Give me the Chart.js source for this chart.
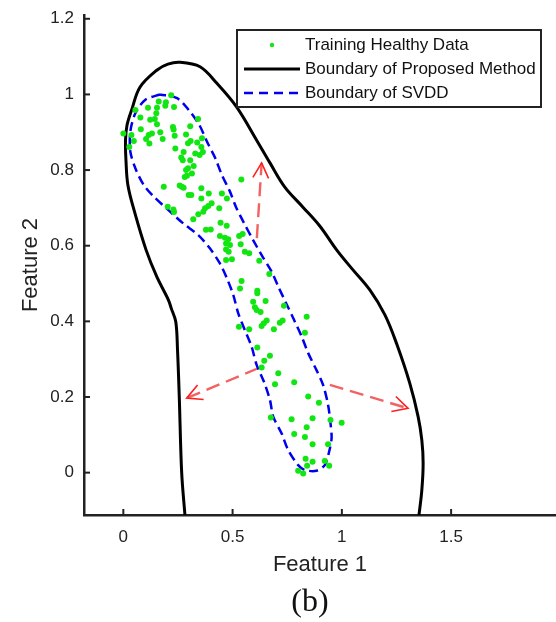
<!DOCTYPE html>
<html>
<head>
<meta charset="utf-8">
<script src="https://cdn.jsdelivr.net/npm/chart.js@4.4.1/dist/chart.umd.min.js"></script>
<style>
  html, body { margin: 0; padding: 0; background: #fff; }
  #wrap { position: relative; width: 556px; height: 622px; overflow: hidden; }
  #caption {
    position: absolute; left: 260px; top: 582px; width: 100px;
    text-align: center; font: 32px "Liberation Serif", "Times New Roman", serif;
    line-height: 36px; color: #111;
  }
</style>
</head>
<body>
<div id="wrap">
  <canvas id="chart" width="556" height="622"></canvas>
  <div id="caption">(b)</div>
</div>
<script>
// tick values and labels
const xTickValues = [0, 0.5, 1, 1.5];
const xTickLabels = ["0", "0.5", "1", "1.5"];
const yTickValues = [0, 0.2, 0.4, 0.6, 0.8, 1, 1.2];
const yTickLabels = ["0", "0.2", "0.4", "0.6", "0.8", "1", "1.2"];

const seriesLabels = ["Training Healthy Data", "Boundary of Proposed Method", "Boundary of SVDD"];

// green training points [feature1, feature2]
const trainingHealthy = [
  [0.219,0.998],[0.162,0.981],[0.195,0.979],[0.192,0.970],[0.113,0.965],[0.154,0.965],[0.232,0.967],
  [0.055,0.959],[0.151,0.950],[0.078,0.939],[0.123,0.933],[0.144,0.935],[0.154,0.921],[0.342,0.935],
  [0.306,0.916],[0.227,0.914],[0.230,0.907],[0.080,0.908],[0.000,0.897],[0.037,0.893],[0.131,0.897],
  [0.169,0.900],[0.116,0.893],[0.235,0.891],[0.287,0.894],[0.104,0.882],[0.180,0.882],[0.048,0.877],
  [0.308,0.877],[0.360,0.884],[0.296,0.871],[0.338,0.873],[0.119,0.870],[0.027,0.861],[0.238,0.857],
  [0.357,0.861],[0.276,0.848],[0.329,0.844],[0.364,0.848],[0.349,0.840],[0.265,0.833],[0.272,0.826],
  [0.306,0.826],[0.322,0.811],[0.296,0.805],[0.287,0.800],[0.314,0.791],[0.291,0.785],[0.281,0.782],
  [0.540,0.775],[0.185,0.756],[0.258,0.759],[0.276,0.753],[0.268,0.756],[0.357,0.752],[0.311,0.734],
  [0.299,0.734],[0.391,0.738],[0.451,0.738],[0.474,0.725],[0.357,0.725],
  [0.404,0.712],[0.389,0.705],[0.374,0.699],[0.439,0.699],[0.203,0.703],[0.229,0.696],[0.232,0.689],
  [0.366,0.690],[0.343,0.683],[0.320,0.670],[0.445,0.661],[0.473,0.653],[0.378,0.642],[0.400,0.643],
  [0.442,0.626],[0.465,0.621],[0.480,0.617],[0.546,0.631],[0.530,0.626],[0.470,0.606],[0.488,0.602],
  [0.537,0.604],[0.470,0.590],[0.482,0.584],[0.556,0.584],[0.576,0.580],[0.470,0.562],[0.497,0.564],
  [0.622,0.560],[0.668,0.525],[0.541,0.507],[0.534,0.487],[0.613,0.481],[0.613,0.474],
  [0.594,0.452],[0.651,0.454],[0.602,0.437],[0.610,0.430],[0.628,0.425],[0.735,0.441],[0.839,0.412],
  [0.656,0.402],[0.643,0.395],[0.633,0.388],[0.729,0.402],[0.716,0.396],[0.529,0.386],[0.576,0.379],
  [0.689,0.379],[0.831,0.370],[0.613,0.331],[0.671,0.309],[0.645,0.296],[0.633,0.278],[0.709,0.263],
  [0.694,0.234],[0.782,0.239],
  [0.846,0.201],[0.895,0.185],[0.675,0.146],[0.770,0.141],[0.866,0.144],[0.948,0.139],[0.999,0.132],
  [0.839,0.120],[0.782,0.102],[0.831,0.094],[0.866,0.075],[0.937,0.075],[0.834,0.037],[0.866,0.029],
  [0.922,0.031],[0.841,0.018],[0.942,0.018],[0.800,0.005],[0.823,-0.002]
];

// black boundary, from bottom-left, over the top, down the right side
const proposedBoundary = [
  [0.285,-0.13],[0.282,-0.112],[0.267,0.000],[0.256,0.200],[0.248,0.324],[0.240,0.399],[0.219,0.435],
  [0.206,0.457],[0.153,0.518],[0.104,0.589],[0.053,0.686],[0.021,0.760],[0.012,0.826],[0.010,0.879],
  [0.017,0.919],[0.038,0.959],[0.076,1.019],[0.153,1.064],[0.204,1.080],[0.259,1.085],[0.351,1.073],
  [0.427,1.030],[0.518,0.967],[0.610,0.879],[0.671,0.819],[0.739,0.755],[0.822,0.702],[0.899,0.652],
  [0.976,0.589],[1.045,0.540],[1.128,0.483],[1.197,0.417],[1.250,0.342],[1.311,0.236],[1.349,0.148],
  [1.366,0.086],[1.372,0.025],[1.366,-0.046],[1.353,-0.112],[1.349,-0.13]
];

// blue dashed SVDD boundary (closed)
const svddBoundary = [
  [0.168,1.000],[0.101,0.986],[0.055,0.950],[0.032,0.902],[0.032,0.849],[0.055,0.805],[0.093,0.761],
  [0.139,0.730],[0.214,0.690],[0.274,0.659],[0.343,0.628],[0.396,0.593],[0.442,0.553],[0.476,0.511],
  [0.503,0.470],[0.526,0.421],[0.556,0.377],[0.587,0.333],[0.610,0.285],[0.643,0.241],[0.671,0.192],
  [0.686,0.148],[0.724,0.104],[0.754,0.060],[0.800,0.020],[0.831,0.007],[0.884,0.005],[0.922,0.020],
  [0.942,0.056],[0.953,0.091],[0.948,0.131],[0.937,0.179],[0.914,0.232],[0.884,0.271],[0.846,0.316],
  [0.816,0.360],[0.781,0.404],[0.745,0.448],[0.709,0.492],[0.679,0.531],[0.633,0.575],[0.594,0.615],
  [0.553,0.659],[0.515,0.703],[0.488,0.743],[0.451,0.787],[0.421,0.831],[0.383,0.875],[0.348,0.919],
  [0.299,0.959],[0.246,0.990],[0.168,1.000]
];

// red arrows: tail -> tip
const arrowTails = [[0.611,0.620],[0.617,0.276],[0.945,0.232]];
const arrowTips = [[0.633,0.819],[0.290,0.197],[1.303,0.170]];

const FONT = "'Liberation Sans', Arial, Helvetica, sans-serif";
const AXIS = "#222";
const toXY = arr => arr.map(p => ({ x: p[0], y: p[1] }));

// tick marks pointing into the plot
const innerTicks = {
  id: "innerTicks",
  afterDraw(chart) {
    const { ctx, chartArea, scales } = chart;
    ctx.save();
    ctx.strokeStyle = AXIS;
    ctx.lineWidth = 2;
    xTickValues.forEach(v => {
      const px = scales.x.getPixelForValue(v);
      ctx.beginPath();
      ctx.moveTo(px, chartArea.bottom);
      ctx.lineTo(px, chartArea.bottom - 6);
      ctx.stroke();
    });
    yTickValues.forEach(v => {
      const py = scales.y.getPixelForValue(v);
      ctx.beginPath();
      ctx.moveTo(chartArea.left, py);
      ctx.lineTo(chartArea.left + 6, py);
      ctx.stroke();
    });
    ctx.restore();
  }
};

const arrowHeads = {
  id: "arrowHeads",
  afterDatasetsDraw(chart) {
    const { ctx, scales: { x, y } } = chart;
    ctx.save();
    ctx.strokeStyle = "#ff2020";
    ctx.lineWidth = 1.6;
    arrowTips.forEach((tip, i) => {
      const x0 = x.getPixelForValue(arrowTails[i][0]);
      const y0 = y.getPixelForValue(arrowTails[i][1]);
      const x1 = x.getPixelForValue(tip[0]);
      const y1 = y.getPixelForValue(tip[1]);
      const ang = Math.atan2(y1 - y0, x1 - x0);
      const len = 17, half = 0.48;
      ctx.beginPath();
      ctx.moveTo(x1 - len * Math.cos(ang - half), y1 - len * Math.sin(ang - half));
      ctx.lineTo(x1, y1);
      ctx.lineTo(x1 - len * Math.cos(ang + half), y1 - len * Math.sin(ang + half));
      ctx.stroke();
    });
    ctx.restore();
  }
};

// boxed legend in the upper right of the plot
const boxLegend = {
  id: "boxLegend",
  afterDraw(chart) {
    const ctx = chart.ctx;
    const left = 237, top = 30, right = 541, bottom = 107;
    const rows = [45, 69, 93];
    ctx.save();
    ctx.fillStyle = "#fff";
    ctx.fillRect(left, top, right - left, bottom - top);
    ctx.strokeStyle = "#222";
    ctx.lineWidth = 2;
    ctx.strokeRect(left, top, right - left, bottom - top);

    ctx.fillStyle = "#12e612";
    ctx.beginPath();
    ctx.arc(272, rows[0], 2.2, 0, Math.PI * 2);
    ctx.fill();

    ctx.strokeStyle = "#000";
    ctx.lineWidth = 3;
    ctx.beginPath();
    ctx.moveTo(244, rows[1]);
    ctx.lineTo(300, rows[1]);
    ctx.stroke();

    ctx.strokeStyle = "#0000ee";
    ctx.lineWidth = 2.5;
    ctx.setLineDash([9, 6]);
    ctx.beginPath();
    ctx.moveTo(244, rows[2]);
    ctx.lineTo(300, rows[2]);
    ctx.stroke();
    ctx.setLineDash([]);

    ctx.fillStyle = "#111";
    ctx.font = "17px " + FONT;
    ctx.textBaseline = "middle";
    ctx.textAlign = "left";
    seriesLabels.forEach((t, i) => ctx.fillText(t, 305, rows[i]));
    ctx.restore();
  }
};

const arrowSets = arrowTails.map((t, i) => ({
  label: "arrow" + i,
  data: toXY([t, arrowTips[i]]),
  showLine: true,
  borderColor: "rgba(240,70,70,0.85)",
  borderWidth: 2.4,
  borderDash: [14, 7],
  pointRadius: 0,
  clip: 0
}));

new Chart(document.getElementById("chart"), {
  type: "scatter",
  data: {
    datasets: [
      {
        label: seriesLabels[0],
        data: toXY(trainingHealthy),
        backgroundColor: "#12e612",
        borderWidth: 0,
        pointRadius: 3
      },
      {
        label: seriesLabels[1],
        data: toXY(proposedBoundary),
        showLine: true,
        borderColor: "#000",
        borderWidth: 3,
        tension: 0.35,
        pointRadius: 0,
        clip: 0
      },
      {
        label: seriesLabels[2],
        data: toXY(svddBoundary),
        showLine: true,
        borderColor: "#0000ee",
        borderWidth: 2.5,
        borderDash: [9, 5],
        tension: 0.3,
        pointRadius: 0,
        clip: 0
      },
      ...arrowSets
    ]
  },
  options: {
    responsive: false,
    animation: false,
    layout: { autoPadding: false, padding: { left: 14, right: 0, top: 15, bottom: 40 } },
    plugins: { legend: { display: false }, tooltip: { enabled: false } },
    scales: {
      x: {
        type: "linear",
        position: "bottom",
        min: -0.18,
        max: 1.98,
        grid: { display: false, drawTicks: false },
        border: { display: true, color: AXIS, width: 2.5 },
        afterBuildTicks: s => { s.ticks = xTickValues.map(v => ({ value: v })); },
        afterFit: s => { s.height = 67; s.paddingLeft = 0; s.paddingRight = 0; s.paddingTop = 0; s.paddingBottom = 0; },
        ticks: {
          padding: 12,
          color: AXIS,
          font: { family: FONT, size: 17 },
          callback: (v, i) => xTickLabels[i]
        },
        title: {
          display: true,
          text: "Feature 1",
          color: AXIS,
          font: { family: FONT, size: 22 },
          padding: { top: 0, bottom: 4 }
        }
      },
      y: {
        type: "linear",
        min: -0.112,
        max: 1.21,
        grid: { display: false, drawTicks: false },
        border: { display: true, color: AXIS, width: 2.5 },
        afterBuildTicks: s => { s.ticks = yTickValues.map(v => ({ value: v })); },
        afterFit: s => { s.width = 70; s.paddingTop = 0; s.paddingBottom = 0; s.paddingLeft = 0; s.paddingRight = 0; },
        ticks: {
          padding: 10,
          color: AXIS,
          font: { family: FONT, size: 17 },
          callback: (v, i) => yTickLabels[i]
        },
        title: {
          display: true,
          text: "Feature 2",
          color: AXIS,
          font: { family: FONT, size: 22 },
          padding: { top: 4, bottom: 0 }
        }
      }
    }
  },
  plugins: [innerTicks, arrowHeads, boxLegend]
});
</script>
</body>
</html>
